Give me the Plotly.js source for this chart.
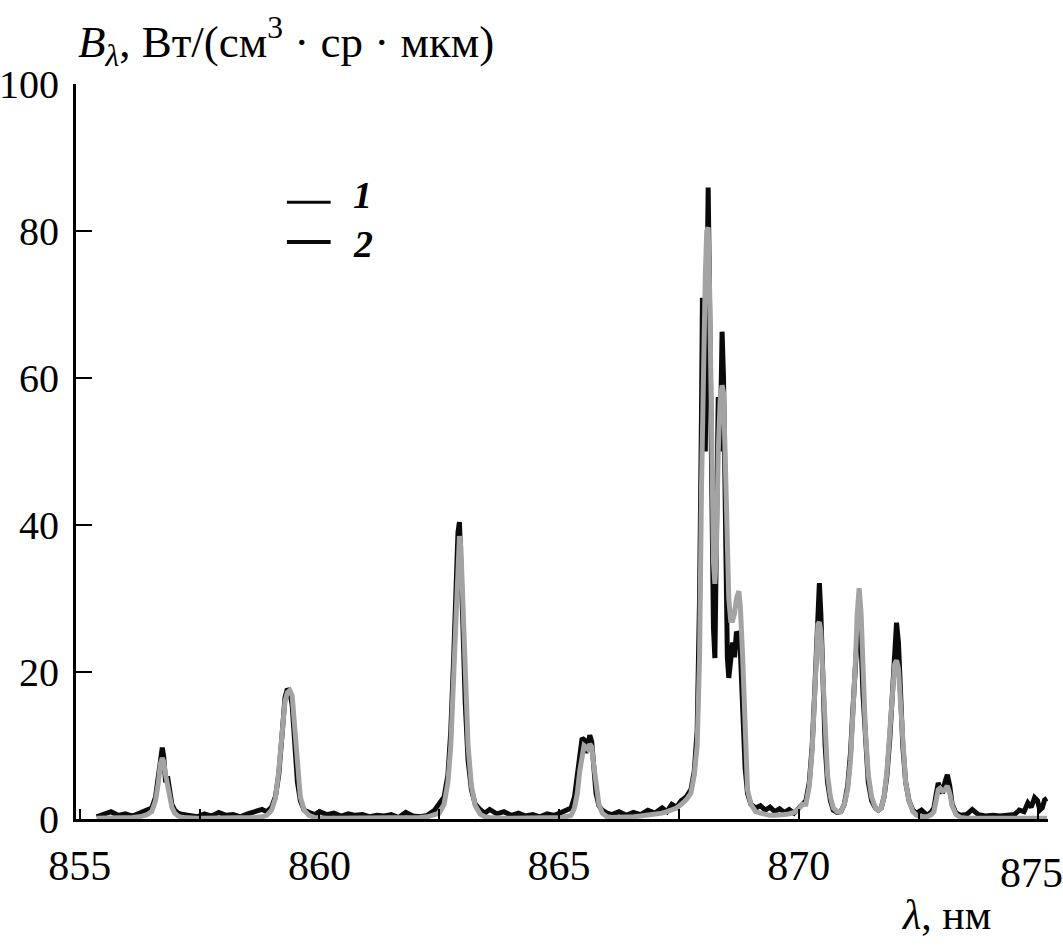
<!DOCTYPE html>
<html>
<head>
<meta charset="utf-8">
<script src="https://cdn.plot.ly/plotly-3.0.1.min.js"></script>
<style>
  html, body { margin: 0; padding: 0; background: #ffffff; }
  #chart { width: 1063px; height: 947px; }
</style>
</head>
<body>
<div id="chart"></div>
<script>
// Wavelength grid, nm (shared by both spectra)
const wavelength = [
  855.35, 855.5, 855.65, 855.8, 855.95, 856.1, 856.25, 856.4,
  856.5, 856.58, 856.64, 856.68, 856.72, 856.75, 856.79, 856.83, 856.87, 856.92, 856.98, 857.05, 857.15,
  857.3, 857.45, 857.6, 857.75, 857.9, 858.05, 858.2, 858.35, 858.5, 858.65, 858.8,
  858.9, 859.0, 859.08, 859.15, 859.22, 859.28, 859.33, 859.38, 859.43, 859.48, 859.54, 859.6, 859.68, 859.78, 859.9,
  860.0, 860.15, 860.3, 860.45, 860.6, 860.75, 860.9, 861.05, 861.2, 861.35, 861.5, 861.65, 861.8, 861.95, 862.1, 862.25, 862.4,
  862.5, 862.6, 862.68, 862.74, 862.8, 862.85, 862.89, 862.92, 862.95, 862.99, 863.04, 863.1, 863.17, 863.25, 863.35, 863.45,
  863.55, 863.7, 863.85, 864.0, 864.15, 864.3, 864.45, 864.6, 864.75, 864.9, 865.05, 865.2,
  865.25, 865.32, 865.38, 865.43, 865.48, 865.52, 865.56, 865.6, 865.64, 865.68, 865.72, 865.77, 865.83, 865.9, 866.0,
  866.1, 866.25, 866.4, 866.55, 866.7, 866.85, 867.0, 867.15, 867.25, 867.35, 867.45, 867.55, 867.65,
  867.75, 867.82, 867.88, 867.93, 867.97, 867.99, 868.02, 868.05, 868.08, 868.11, 868.14, 868.18, 868.22, 868.25, 868.28, 868.32, 868.36, 868.40, 868.43, 868.47, 868.51, 868.54, 868.58, 868.62, 868.66, 868.70, 868.75, 868.78, 868.83, 868.88, 868.93, 869.0, 869.1,
  869.2, 869.3, 869.4, 869.5, 869.6, 869.7, 869.8, 869.9, 870.0, 870.08,
  870.15, 870.22, 870.28, 870.33, 870.37, 870.4, 870.43, 870.46, 870.5, 870.55, 870.6, 870.66, 870.72, 870.8,
  870.88, 870.95, 871.02, 871.08, 871.13, 871.18, 871.22, 871.26, 871.3, 871.34, 871.39, 871.45, 871.52, 871.6, 871.66,
  871.72, 871.78, 871.84, 871.9, 871.95, 872.0, 872.04, 872.08, 872.12, 872.17, 872.23, 872.3, 872.38, 872.46,
  872.56, 872.68, 872.77,
  872.82, 872.87, 872.91, 872.95, 873.0, 873.05, 873.1, 873.15, 873.2, 873.28, 873.38,
  873.5, 873.62, 873.75, 873.9, 874.05, 874.2, 874.35, 874.5, 874.6, 874.7, 874.78, 874.85, 874.92, 874.98, 875.03, 875.08, 875.13, 875.18
];

// Curve 2 (black)
const intensity2 = [
  0.3, 0.6, 1.0, 0.5, 0.7, 0.4, 0.8, 1.2,
  1.5, 3.0, 5.5, 8.0, 9.7, 8.5, 5.0, 5.8, 3.5, 2.0, 1.2, 0.8, 0.6,
  0.5, 0.3, 0.7, 0.4, 0.9, 0.5, 0.6, 0.3, 0.7, 1.0, 1.3,
  1.0, 1.6, 3.0, 6.0, 11.5, 16.5, 17.7, 17.3, 15.5, 10.0, 5.0, 2.5, 1.2, 0.9, 0.6,
  1.0, 0.6, 0.8, 0.4, 0.7, 0.5, 0.6, 0.3, 0.5, 0.4, 0.6, 0.2, 0.9, 0.4, 0.3, 0.5, 1.2,
  2.0, 3.0, 6.0, 12.0, 22.0, 32.0, 39.0, 40.4, 36.0, 27.0, 16.0, 8.0, 4.0, 2.0, 1.3, 0.8,
  1.3, 0.7, 1.0, 0.5, 0.8, 0.4, 0.6, 0.3, 0.7, 0.5, 0.9, 1.4,
  1.5, 3.0, 6.5, 9.5, 11.0, 10.8, 9.0, 10.0, 11.4, 10.5, 7.0, 3.5, 1.8, 1.2, 0.8,
  0.6, 1.0, 0.5, 0.9, 0.6, 1.2, 0.8, 1.5, 1.0, 2.0, 1.6, 2.5, 3.0,
  4.0, 6.5, 12, 30, 55, 70.9, 55, 50, 70, 85.9, 70, 45, 26, 21.9, 35, 57.4, 50, 66.3, 60, 40, 22, 19.2, 22, 24, 22, 25.5, 24.8, 23, 15, 7, 3.5, 2.0, 1.5,
  1.8, 1.2, 1.6, 1.0, 1.4, 0.9, 1.3, 0.8, 1.5, 2.0,
  2.5, 5.0, 10.0, 17.0, 25.0, 30.0, 32.1, 28.0, 18.0, 10.0, 5.0, 2.5, 1.2, 0.9,
  1.0, 2.0, 4.5, 9.0, 15.0, 21.0, 25.0, 26.7, 24.0, 17.0, 10.0, 5.0, 2.5, 1.5, 1.2,
  1.5, 3.0, 6.0, 11.0, 17.0, 23.0, 26.7, 24.0, 17.0, 10.0, 5.0, 2.5, 1.2, 0.8,
  1.2, 0.5, 1.0,
  1.5, 3.5, 4.9, 4.2, 3.5, 5.0, 6.0, 4.5, 2.0, 0.8, 0.5,
  0.6, 1.3, 0.6, 0.4, 0.5, 0.4, 0.5, 0.6, 1.2, 1.0, 2.2, 1.6, 2.9, 2.5, 1.2, 1.5, 2.6, 2.8
];

// Curve 1 (grey)
const intensity1 = [
  0.1, 0.1, 0.1, 0.1, 0.15, 0.2, 0.3, 0.6,
  1.0, 2.5, 5.0, 7.5, 8.3, 7.8, 6.0, 4.5, 3.0, 1.6, 0.8, 0.4, 0.2,
  0.1, 0.1, 0.1, 0.1, 0.1, 0.1, 0.1, 0.1, 0.15, 0.2, 0.3,
  0.5, 1.2, 2.8, 6.5, 12.0, 16.0, 17.2, 17.5, 16.8, 12.5, 6.5, 3.0, 1.2, 0.5, 0.2,
  0.1, 0.1, 0.1, 0.1, 0.1, 0.1, 0.1, 0.1, 0.1, 0.1, 0.1, 0.1, 0.1, 0.1, 0.2, 0.3, 0.5,
  0.8, 2.0, 5.0, 10.0, 20.0, 31.0, 37.5, 38.5, 37.0, 30.0, 19.0, 10.0, 4.5, 1.8, 0.7, 0.3,
  0.2, 0.1, 0.1, 0.1, 0.1, 0.1, 0.1, 0.1, 0.1, 0.15, 0.2, 0.4,
  0.5, 1.5, 3.5, 6.5, 9.0, 10.0, 9.8, 9.5, 10.2, 9.8, 7.5, 4.5, 2.0, 0.8, 0.3,
  0.2, 0.2, 0.3, 0.3, 0.4, 0.5, 0.6, 0.8, 1.0, 1.2, 1.5, 2.0, 2.6,
  3.5, 6, 10, 22, 45, 55, 65, 74, 80, 80.5, 72, 50, 35, 32, 36, 50, 57, 59, 58, 48, 36, 30, 27, 27, 28, 30, 31, 29, 22, 10, 4, 2.0, 1.0,
  0.8, 0.6, 0.5, 0.5, 0.5, 0.6, 0.7, 0.9, 1.4, 2.0,
  2.0, 4.5, 9.5, 16.5, 23.0, 26.5, 26.8, 25.5, 20.0, 12.0, 6.0, 3.0, 1.5, 1.0,
  1.0, 2.0, 4.0, 8.0, 14.0, 21.0, 28.0, 31.4, 28.0, 20.0, 12.0, 6.0, 3.0, 1.5, 1.2,
  1.5, 3.0, 6.5, 12.0, 17.5, 21.0, 21.6, 20.5, 16.0, 10.0, 5.0, 2.5, 1.0, 0.5,
  0.3, 0.3, 0.6,
  1.0, 2.5, 4.0, 4.2, 3.8, 4.0, 4.5, 3.5, 1.8, 0.6, 0.2,
  0.1, 0.1, 0.1, 0.1, 0.1, 0.1, 0.1, 0.1, 0.1, 0.1, 0.1, 0.1, 0.1, 0.1, 0.1, 0.1, 0.1, 0.1
];

const seriesNames = ['1', '2'];
const xTickValues = [855, 860, 865, 870, 875];
// the last label is drawn separately, pulled in from the page edge
const xTickLabels = ['855', '860', '865', '870', ''];
const xLastLabel = '875';
const yTickStep = 20;

if (wavelength.length !== intensity1.length || wavelength.length !== intensity2.length) {
  console.error('length mismatch', wavelength.length, intensity1.length, intensity2.length);
}

const serif = 'Liberation Serif';
const black = '#0a0a0a';
const grey = '#a3a3a3';

const traces = [
  {
    x: wavelength, y: intensity2, type: 'scatter', mode: 'lines', name: seriesNames[1],
    line: { color: black, width: 5 }, showlegend: false, hoverinfo: 'skip'
  },
  {
    x: wavelength, y: intensity1, type: 'scatter', mode: 'lines', name: seriesNames[0],
    line: { color: grey, width: 5 }, showlegend: false, hoverinfo: 'skip'
  }
];

const layout = {
  width: 1063, height: 947,
  paper_bgcolor: '#ffffff', plot_bgcolor: '#ffffff',
  margin: { l: 76, r: 15, t: 84, b: 128 },
  showlegend: false,
  font: { family: serif, color: '#000000', size: 40 },
  xaxis: {
    range: [854.92, 875.2],
    tickmode: 'array', tickvals: xTickValues, ticktext: xTickLabels,
    ticks: 'inside', ticklen: 10, tickwidth: 2, tickcolor: '#000',
    minor: { dtick: 2.5, tick0: 855, ticks: 'inside', ticklen: 10, tickwidth: 2, tickcolor: '#000' },
    showline: true, linewidth: 3, linecolor: '#000',
    showgrid: false, zeroline: false,
    tickfont: { family: serif, size: 42, color: '#000' },
    ticklabelstandoff: 8,
    fixedrange: true
  },
  yaxis: {
    range: [0, 100],
    tick0: 0, dtick: yTickStep,
    ticks: 'inside', ticklen: 16, tickwidth: 2.5, tickcolor: '#000',
    showline: true, linewidth: 3, linecolor: '#000',
    showgrid: false, zeroline: false,
    tickfont: { family: serif, size: 40, color: '#000' },
    ticklabelstandoff: 6,
    fixedrange: true
  },
  shapes: [
    { type: 'line', xref: 'paper', yref: 'paper', x0: 0.217, x1: 0.262, y0: 0.839, y1: 0.839,
      line: { color: black, width: 3 } },
    { type: 'line', xref: 'paper', yref: 'paper', x0: 0.217, x1: 0.262, y0: 0.785, y1: 0.785,
      line: { color: black, width: 4 } }
  ],
  annotations: [
    { xref: 'paper', yref: 'paper', x: 0.0, y: 1.058, xanchor: 'left', yanchor: 'middle',
      text: '<i>B</i><sub><i>λ</i></sub>, Вт/(см<sup>3</sup> · ср · мкм)', showarrow: false,
      font: { family: serif, size: 45, color: '#000' } },
    { xref: 'paper', yref: 'paper', x: 0.943, y: -0.131, xanchor: 'right', yanchor: 'middle',
      text: '<i>λ</i>, нм', showarrow: false,
      font: { family: serif, size: 42, color: '#000' } },
    { xref: 'x', yref: 'paper', x: xTickValues[4], y: 0, xanchor: 'center', yanchor: 'top',
      xshift: -7, yshift: -29,
      text: xLastLabel, showarrow: false,
      font: { family: serif, size: 42, color: '#000' } },
    { xref: 'paper', yref: 'paper', x: 0.283, y: 0.849, xanchor: 'left', yanchor: 'middle',
      text: '<b><i>' + seriesNames[0] + '</i></b>', showarrow: false,
      font: { family: serif, size: 38, color: '#000' } },
    { xref: 'paper', yref: 'paper', x: 0.283, y: 0.782, xanchor: 'left', yanchor: 'middle',
      text: '<b><i>' + seriesNames[1] + '</i></b>', showarrow: false,
      font: { family: serif, size: 38, color: '#000' } }
  ]
};

Plotly.newPlot('chart', traces, layout, { displayModeBar: false, staticPlot: true });
</script>
</body>
</html>
